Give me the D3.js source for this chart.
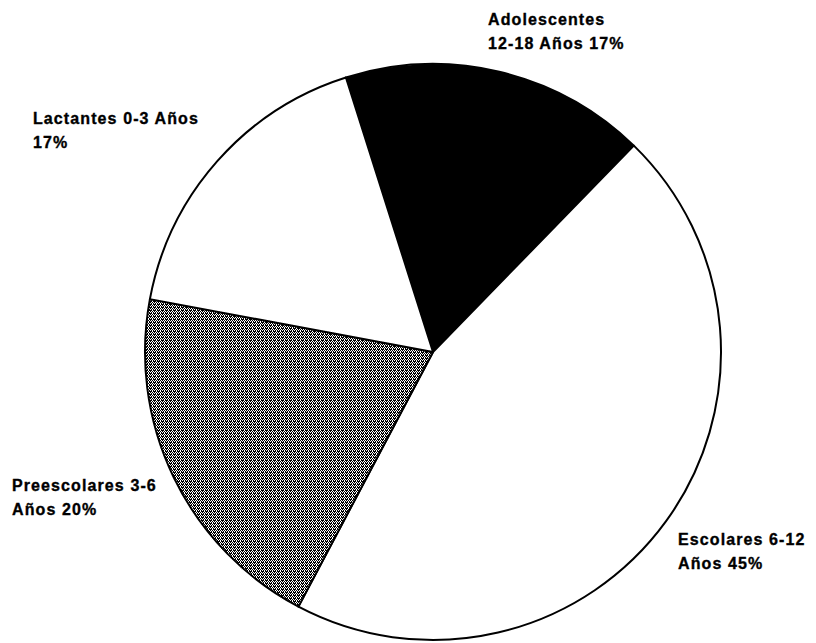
<!DOCTYPE html>
<html>
<head>
<meta charset="utf-8">
<script src="https://cdn.jsdelivr.net/npm/d3@7"></script>
<style>
html,body{margin:0;padding:0;background:#fff;}
svg{display:block;}
text{font-family:"Liberation Sans",Arial,sans-serif;font-weight:bold;font-size:16px;letter-spacing:1.1px;fill:#000;stroke:#000;stroke-width:0.35px;}
</style>
</head>
<body>
<svg id="chart" width="816" height="643"></svg>
<script>
const categories = ["Adolescentes", "Escolares", "Preescolares", "Lactantes"];
const values = [17, 45, 20, 17];
const labelLines = [
  ["Adolescentes", "12-18 Años 17%"],
  ["Escolares 6-12", "Años 45%"],
  ["Preescolares 3-6", "Años 20%"],
  ["Lactantes 0-3 Años", "17%"]
];
const fills = ["#000", "#fff", "url(#dither)", "#fff"];
const labelPos = [[488, 25], [678, 545], [12, 491], [33, 124]];

const svg = d3.select("#chart");
const defs = svg.append("defs");
const pat = defs.append("pattern").attr("id", "dither").attr("patternUnits", "userSpaceOnUse")
  .attr("width", 4).attr("height", 3);
pat.append("rect").attr("width", 4).attr("height", 3).attr("fill", "#fff");
pat.append("rect").attr("x", 0).attr("y", 0).attr("width", 3).attr("height", 1).attr("fill", "#000");
pat.append("rect").attr("x", 1).attr("y", 1).attr("width", 1).attr("height", 1).attr("fill", "#000");
pat.append("rect").attr("x", 3).attr("y", 1).attr("width", 1).attr("height", 1).attr("fill", "#000");
pat.append("rect").attr("x", 0).attr("y", 2).attr("width", 1).attr("height", 1).attr("fill", "#000");
pat.append("rect").attr("x", 2).attr("y", 2).attr("width", 1).attr("height", 1).attr("fill", "#000");

const cx = 433, cy = 352, r = 288;
const start = -17.6 * Math.PI / 180;
const pie = d3.pie().sort(null).value(d => d).startAngle(start).endAngle(start + 2 * Math.PI);
const arc = d3.arc().innerRadius(0).outerRadius(r);
const g = svg.append("g").attr("transform", `translate(${cx},${cy})`);
g.selectAll("path").data(pie(values)).join("path")
  .attr("d", arc)
  .attr("fill", (d, i) => fills[i])
  .attr("stroke", "#000")
  .attr("stroke-width", 2)
  .attr("stroke-linejoin", "round");

const lab = svg.append("g");
labelLines.forEach((lines, i) => {
  const t = lab.append("text").attr("x", labelPos[i][0]).attr("y", labelPos[i][1]);
  lines.forEach((l, j) => {
    t.append("tspan").attr("x", labelPos[i][0]).attr("dy", j === 0 ? 0 : 24).text(l);
  });
});
</script>
</body>
</html>
